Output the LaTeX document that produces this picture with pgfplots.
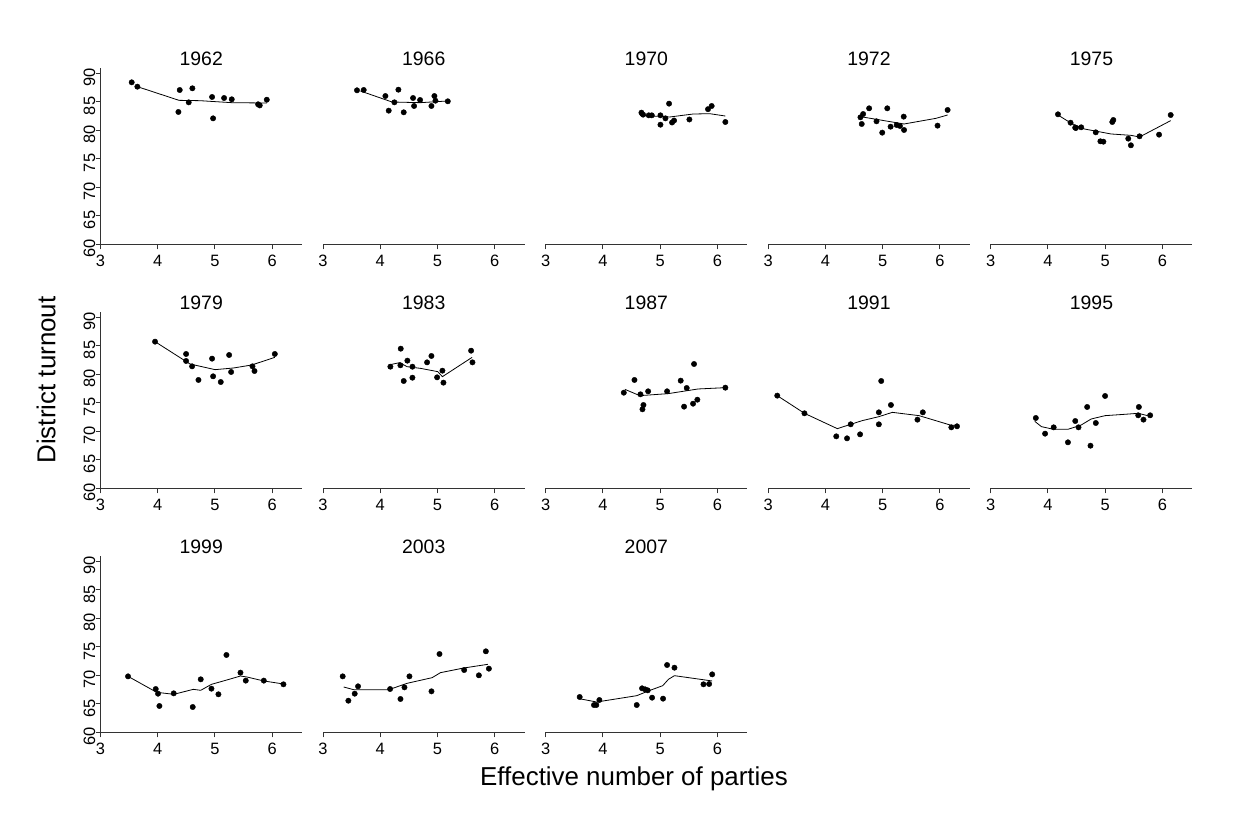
\documentclass[border=0pt]{standalone}
\usepackage{fontspec}
\setmainfont{Liberation Sans}
\usepackage{pgfplots}
\pgfplotsset{compat=1.18}
\pgfplotsset{
  panel/.style={
    scale only axis, width=201.5bp, height=176.7bp,
    anchor=south west,
    xmin=3, xmax=6.52, ymin=60, ymax=91,
    axis x line=bottom, axis y line=left,
    axis line style={-, line width=1bp, black!80},
    xtick={3,4,5,6}, ytick={60,65,70,75,80,85,90},
    tick align=outside, major tick length=5bp,
    tick style={line width=1bp, black!80},
    /pgf/number format/assume math mode=true,
    x tick label style={font=\fontsize{16.5}{16.5}\selectfont, anchor=north, inner sep=0pt, yshift=-5bp},
    y tick label style={font=\fontsize{16.5}{16.5}\selectfont, rotate=90, anchor=south, inner sep=0pt, xshift=-4bp},
    title style={font=\fontsize{19.5}{19.5}\selectfont, at={(0.5,1)}, anchor=base, yshift=-3.2bp},
    clip=false,
  },
  inner/.style={
    y axis line style={draw=none}, ytick=\empty, yticklabels={},
  },
  dots/.style={only marks, mark=*, mark size=2.7bp, black},
  fit/.style={no marks, black, line width=0.8bp},
}
\begin{document}
\begin{tikzpicture}
\path[use as bounding box] (0bp,0bp) rectangle (1233bp,822bp);
% Row 1
\begin{axis}[panel, at={(100.5bp,577.5bp)}, title={1962}]
\addplot[dots] coordinates {(3.545,88.45)(3.644,87.69)(4.384,87.1)(4.605,87.4)(4.361,83.25)(4.541,84.94)(4.949,85.88)(5.159,85.7)(5.293,85.47)(4.967,82.13)(5.753,84.6)(5.782,84.4)(5.905,85.4)};
\addplot[fit] coordinates {(3.644,87.69)(4.372,85.29)(4.739,85.23)(5.293,84.88)(5.905,84.82)};
\end{axis}
\begin{axis}[panel, inner, at={(323.0bp,577.5bp)}, title={1966}]
\addplot[dots] coordinates {(3.594,87.05)(3.711,87.11)(4.09,86.05)(4.317,87.16)(4.247,84.94)(4.148,83.48)(4.41,83.19)(4.573,85.7)(4.591,84.3)(4.696,85.35)(4.946,86.05)(4.964,85.23)(4.894,84.3)(5.18,85.12)};
\addplot[fit] coordinates {(3.653,86.93)(4.206,85.0)(4.702,84.88)(5.18,85.18)};
\end{axis}
\begin{axis}[panel, inner, at={(545.6bp,577.5bp)}, title={1970}]
\addplot[dots] coordinates {(4.674,83.13)(4.703,82.78)(4.802,82.66)(4.855,82.66)(5.006,82.66)(5.006,81.02)(5.093,82.13)(5.157,84.71)(5.209,81.4)(5.244,81.75)(5.512,81.93)(5.837,83.74)(5.901,84.3)(6.14,81.49)};
\addplot[fit] coordinates {(4.645,82.66)(5.169,82.37)(5.576,82.89)(5.866,82.95)(6.14,82.54)};
\end{axis}
\begin{axis}[panel, inner, at={(768.2bp,577.5bp)}, title={1972}]
\addplot[dots] coordinates {(4.611,82.31)(4.658,82.89)(4.634,81.14)(4.763,83.89)(4.892,81.61)(4.992,79.62)(5.08,83.89)(5.138,80.67)(5.244,80.96)(5.302,80.79)(5.367,82.43)(5.373,80.09)(5.958,80.85)(6.134,83.6)};
\addplot[fit] coordinates {(4.611,82.43)(5.373,81.14)(5.929,82.13)(6.134,82.72)};
\end{axis}
\begin{axis}[panel, inner, at={(990.7bp,577.5bp)}, title={1975}]
\addplot[dots] coordinates {(4.175,82.84)(4.395,81.37)(4.488,80.44)(4.476,80.5)(4.581,80.56)(4.835,79.68)(4.916,78.1)(4.968,78.04)(5.124,81.49)(5.142,81.84)(5.403,78.57)(5.449,77.4)(5.6,78.98)(5.941,79.27)(6.144,82.72)};
\addplot[fit] coordinates {(4.175,82.72)(4.407,81.26)(4.639,80.26)(5.102,79.39)(5.449,79.15)(5.6,78.86)(6.144,81.73)};
\end{axis}
% Row 2
\begin{axis}[panel, at={(100.5bp,333.5bp)}, title={1979}]
\addplot[dots] coordinates {(3.953,85.76)(4.495,83.6)(4.495,82.37)(4.6,81.43)(4.711,79.04)(4.949,82.78)(4.967,79.68)(5.101,78.68)(5.247,83.42)(5.282,80.44)(5.655,81.43)(5.69,80.61)(6.045,83.6)};
\addplot[fit] coordinates {(3.953,85.76)(4.565,81.84)(5.002,80.85)(5.322,81.14)(5.643,81.67)(6.045,83.01)};
\end{axis}
\begin{axis}[panel, inner, at={(323.0bp,333.5bp)}, title={1983}]
\addplot[dots] coordinates {(4.177,81.37)(4.358,84.53)(4.352,81.61)(4.474,82.43)(4.562,81.37)(4.41,78.86)(4.562,79.44)(4.818,82.13)(4.894,83.25)(4.993,79.5)(5.086,80.67)(5.104,78.57)(5.587,84.18)(5.611,82.13)};
\addplot[fit] coordinates {(4.148,81.67)(4.34,82.08)(4.469,81.37)(4.702,81.08)(5.005,80.5)(5.086,79.62)(5.605,83.01)};
\end{axis}
\begin{axis}[panel, inner, at={(545.6bp,333.5bp)}, title={1987}]
\addplot[dots] coordinates {(4.366,76.81)(4.552,79.04)(4.657,76.52)(4.709,74.65)(4.692,73.89)(4.791,77.05)(5.122,77.05)(5.36,78.92)(5.465,77.63)(5.419,74.36)(5.576,74.88)(5.651,75.58)(5.593,81.84)(6.14,77.69)};
\addplot[fit] coordinates {(4.384,77.4)(4.645,76.29)(5.14,76.64)(5.663,77.46)(6.14,77.69)};
\end{axis}
\begin{axis}[panel, inner, at={(768.2bp,333.5bp)}, title={1991}]
\addplot[dots] coordinates {(3.158,76.29)(3.633,73.19)(4.189,69.15)(4.377,68.8)(4.441,71.26)(4.605,69.5)(4.933,73.36)(4.933,71.26)(4.974,78.86)(5.144,74.65)(5.607,72.08)(5.701,73.36)(6.199,70.73)(6.298,70.91)};
\addplot[fit] coordinates {(3.158,76.29)(3.633,73.19)(4.207,70.5)(4.64,71.9)(4.933,72.6)(5.168,73.36)(5.636,72.78)(6.199,71.08)(6.298,71.08)};
\end{axis}
\begin{axis}[panel, inner, at={(990.7bp,333.5bp)}, title={1995}]
\addplot[dots] coordinates {(3.788,72.37)(3.95,69.62)(4.1,70.73)(4.349,68.1)(4.477,71.84)(4.534,70.73)(4.685,74.3)(4.743,67.51)(4.836,71.49)(4.998,76.23)(5.588,74.3)(5.577,72.84)(5.669,72.08)(5.785,72.84)};
\addplot[fit] coordinates {(3.77,71.78)(3.886,70.85)(4.1,70.38)(4.349,70.38)(4.581,71.14)(4.754,72.19)(4.998,72.78)(5.334,73.01)(5.577,73.19)(5.739,72.78)};
\end{axis}
% Row 3
\begin{axis}[panel, at={(100.5bp,89.5bp)}, title={1999}]
\addplot[dots] coordinates {(3.481,69.85)(3.965,67.63)(4.005,66.81)(4.029,64.65)(4.279,66.87)(4.611,64.47)(4.751,69.33)(4.938,67.69)(5.06,66.7)(5.2,73.6)(5.445,70.5)(5.538,69.1)(5.853,69.1)(6.196,68.45)};
\addplot[fit] coordinates {(3.481,69.85)(3.982,67.05)(4.279,66.7)(4.623,67.57)(4.751,67.4)(4.938,68.45)(5.206,69.21)(5.445,69.91)(5.556,69.74)(5.853,69.04)(6.196,68.51)};
\end{axis}
\begin{axis}[panel, inner, at={(323.0bp,89.5bp)}, title={2003}]
\addplot[dots] coordinates {(3.344,69.85)(3.443,65.58)(3.554,66.81)(3.612,68.1)(4.172,67.63)(4.353,65.88)(4.423,67.92)(4.51,69.85)(4.895,67.22)(5.035,73.77)(5.466,70.96)(5.723,70.03)(5.845,74.24)(5.898,71.2)};
\addplot[fit] coordinates {(3.362,67.98)(3.536,67.51)(4.149,67.51)(4.469,68.63)(4.907,69.62)(5.052,70.5)(5.461,71.32)(5.88,71.96)};
\end{axis}
\begin{axis}[panel, inner, at={(545.6bp,89.5bp)}, title={2007}]
\addplot[dots] coordinates {(3.595,66.23)(3.845,64.82)(3.886,64.82)(3.939,65.7)(4.592,64.82)(4.685,67.75)(4.738,67.57)(4.784,67.4)(4.86,66.11)(5.052,65.94)(5.122,71.84)(5.251,71.37)(5.758,68.45)(5.857,68.51)(5.91,70.2)};
\addplot[fit] coordinates {(3.583,65.94)(3.892,65.35)(4.592,66.46)(4.825,67.4)(5.047,68.22)(5.146,69.33)(5.251,69.97)(5.91,69.04)};
\end{axis}
% Axis titles
\node[font=\fontsize{26}{26}\selectfont, rotate=90] at (46bp,442bp) {District turnout};
\node[font=\fontsize{26}{26}\selectfont] at (634bp,43bp) {Effective number of parties};
\end{tikzpicture}
\end{document}
